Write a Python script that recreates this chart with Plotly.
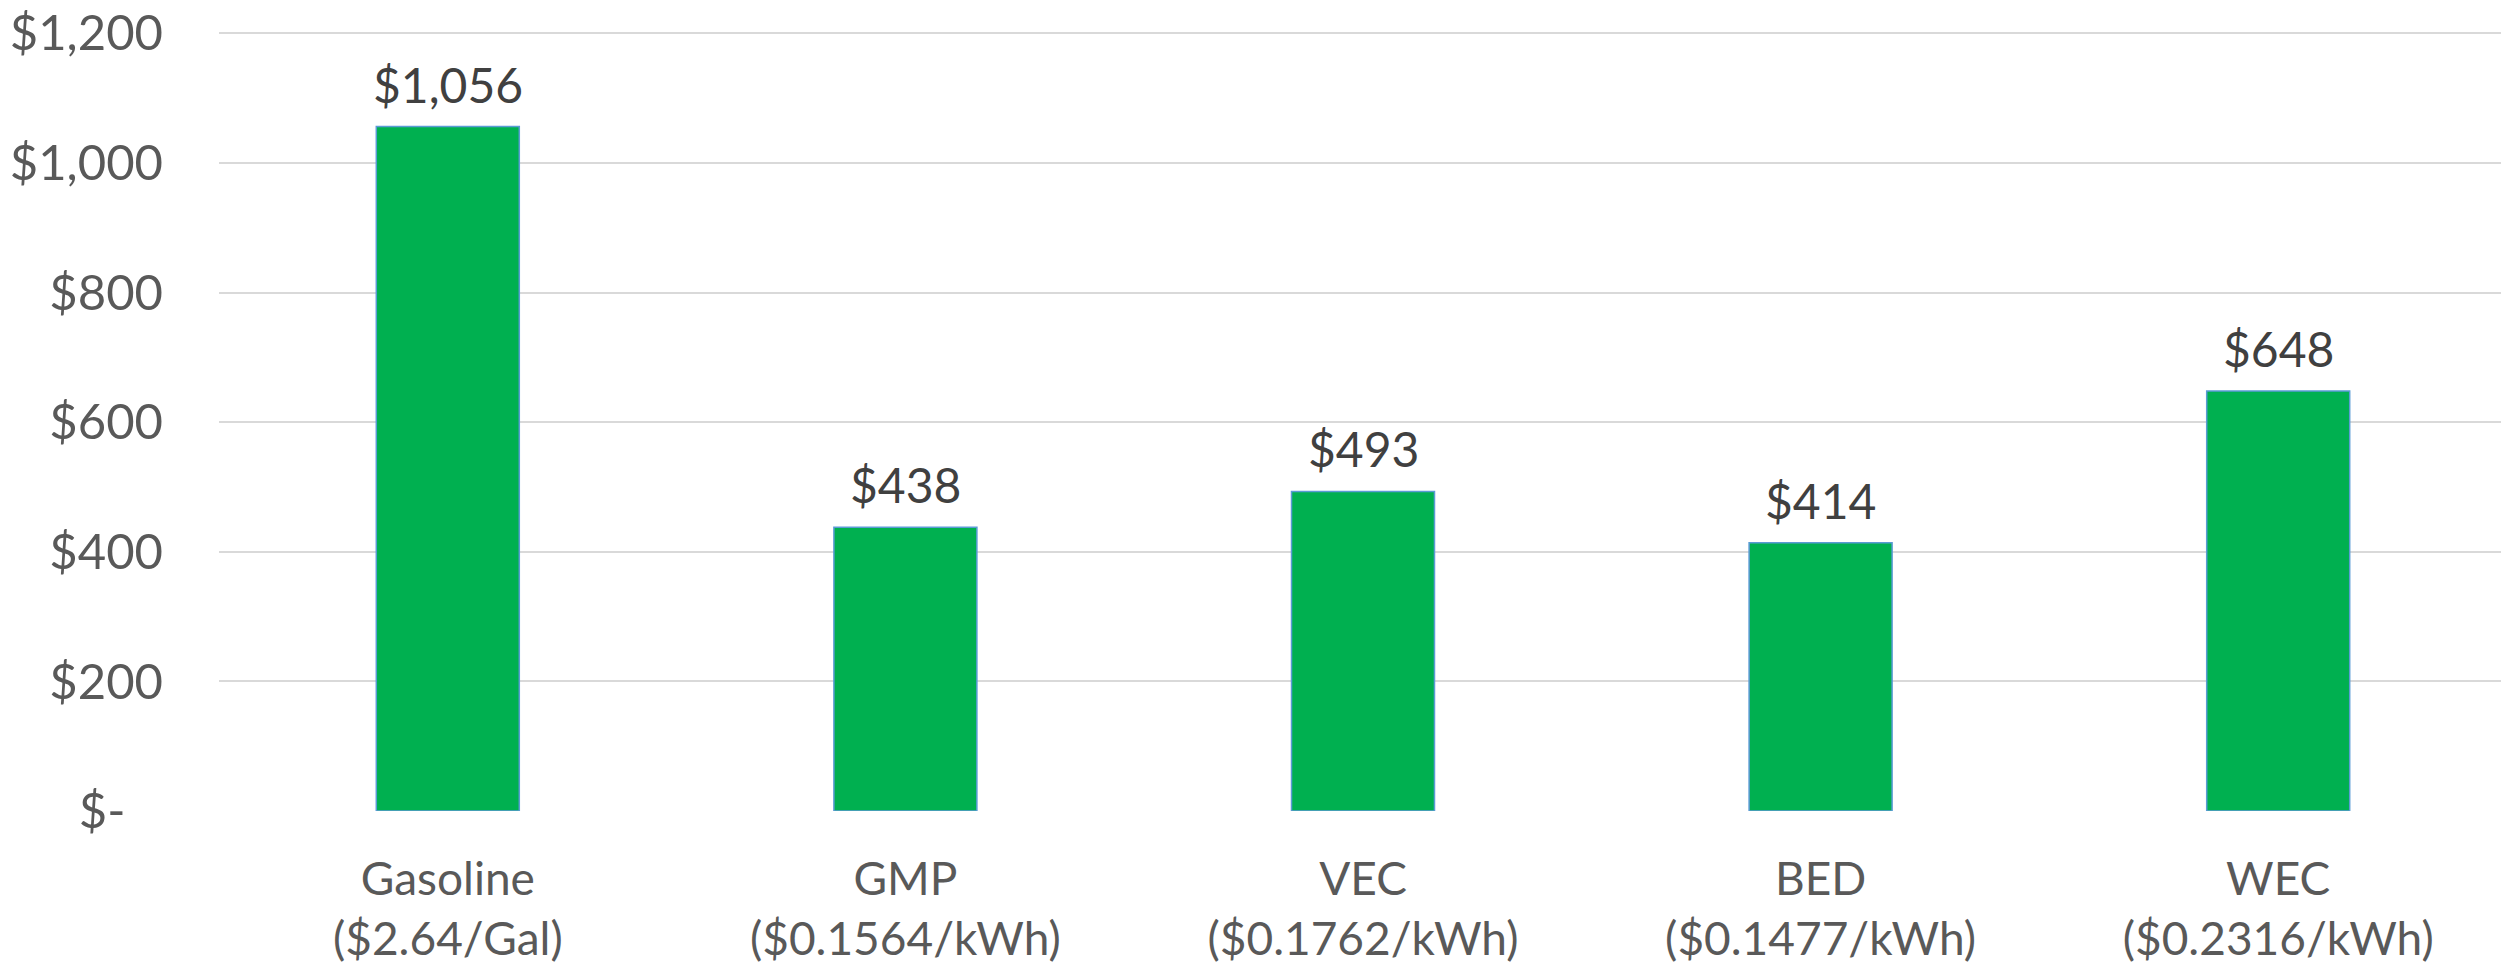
import plotly.graph_objects as go

categories = ["Gasoline<br>($2.64/Gal)", "GMP<br>($0.1564/kWh)", "VEC<br>($0.1762/kWh)",
              "BED<br>($0.1477/kWh)", "WEC<br>($0.2316/kWh)"]
values = [1056, 438, 493, 414, 648]
value_labels = ["$1,056", "$438", "$493", "$414", "$648"]
y_tickvals = [0, 200, 400, 600, 800, 1000, 1200]
y_ticktext = ["$-\u00a0\u00a0\u00a0", "$200", "$400", "$600", "$800", "$1,000", "$1,200"]

FONT = "Lato"

fig = go.Figure()
fig.add_trace(go.Bar(
    x=categories, y=values,
    marker=dict(color="#00B050", line=dict(color="#5B9BD5", width=1.5)),
    hoverinfo="skip",
))

for c, v, t in zip(categories, values, value_labels):
    fig.add_annotation(x=c, y=v, text=t, showarrow=False, yanchor="bottom",
                       yshift=12, font=dict(family=FONT, size=48, color="#404040"))

fig.update_layout(
    width=2501, height=963,
    margin=dict(l=211, r=2, t=24, b=160),
    plot_bgcolor="white", paper_bgcolor="white",
    bargap=0.6875,
    showlegend=False,
    font=dict(family=FONT, size=48, color="#595959"),
)
fig.update_yaxes(range=[0, 1202], tickvals=y_tickvals, ticktext=y_ticktext,
                 showgrid=True, gridcolor="#D9D9D9", gridwidth=2,
                 zeroline=False, showline=False, ticks="", automargin=False,
                 ticklabelstandoff=55, ticklabeloverflow="allow",
                 tickfont=dict(family=FONT, size=49, color="#595959"))
fig.update_xaxes(showgrid=False, showline=False, zeroline=False, ticks="",
                 automargin=False, ticklabelstandoff=37,
                 tickfont=dict(family=FONT, size=46, color="#595959"))

fig.write_html("out.html")
